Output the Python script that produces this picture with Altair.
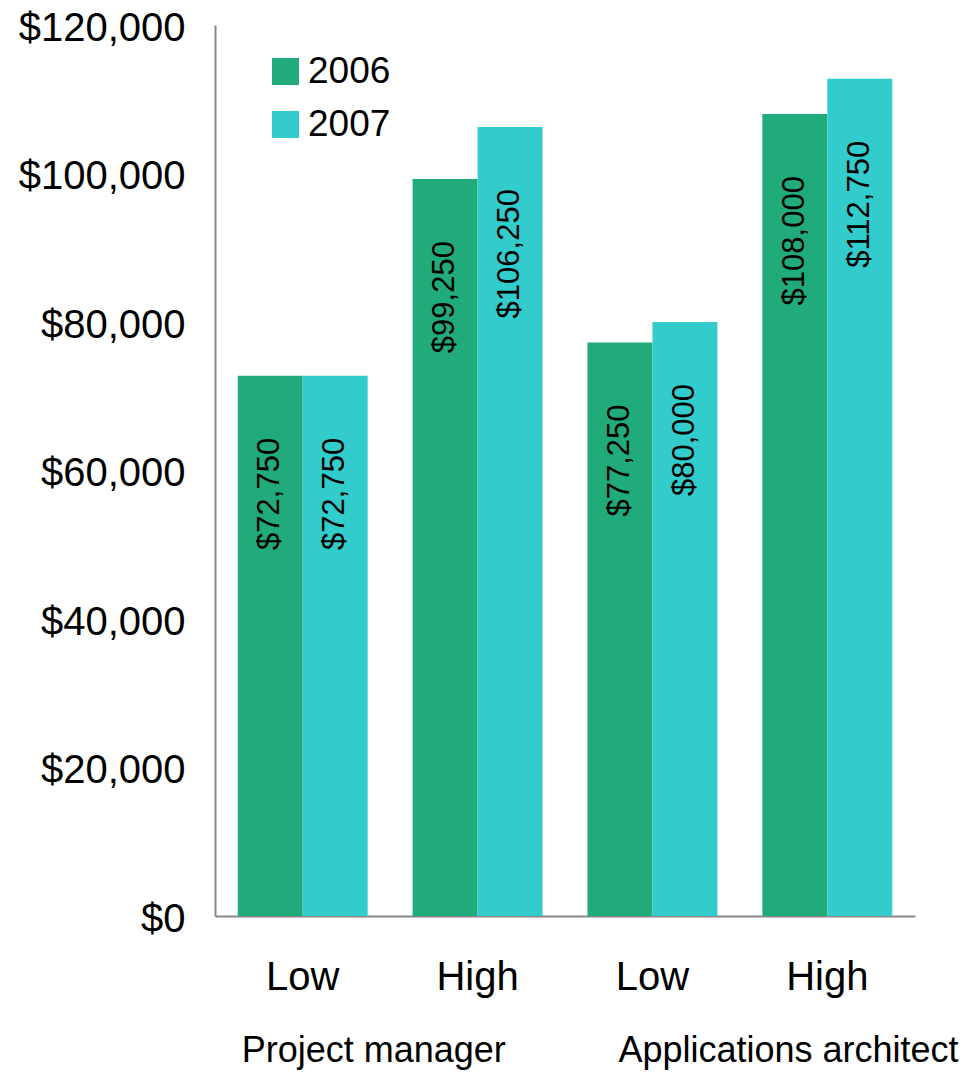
import altair as alt
import pandas as pd

roles = ["Project manager", "Project manager", "Applications architect", "Applications architect"]
levels = ["Low", "High", "Low", "High"]
years = ["2006", "2007"]
salary_2006 = [72750, 99250, 77250, 108000]
salary_2007 = [72750, 106250, 80000, 112750]
group_names = ["Project manager", "Applications architect"]
colors = ["#21AA7A", "#33CCCC"]

rows = []
for r, l, a, b in zip(roles, levels, salary_2006, salary_2007):
    key = f"{r}|{l}"
    rows.append({"key": key, "year": "2006", "salary": a})
    rows.append({"key": key, "year": "2007", "salary": b})
df = pd.DataFrame(rows)
keys = [f"{r}|{l}" for r, l in zip(roles, levels)]

FONT = "Liberation Sans"
W, H = 700, 891

x_enc = alt.X(
    "key:N",
    sort=keys,
    scale=alt.Scale(domain=keys, paddingInner=0.257, paddingOuter=0.13),
    axis=alt.Axis(
        title=None,
        labelExpr="split(datum.label, '|')[1]",
        labelAngle=0,
        labelFontSize=40,
        labelFont=FONT,
        labelColor="#000000",
        labelPadding=41,
        ticks=False,
        domainColor="#888888",
        domainWidth=2,
        grid=False,
    ),
)
xoff = alt.XOffset("year:N", sort=years, scale=alt.Scale(paddingInner=0, paddingOuter=0))
y_enc = alt.Y(
    "salary:Q",
    scale=alt.Scale(domain=[0, 120000], nice=False),
    axis=alt.Axis(
        title=None,
        values=[0, 20000, 40000, 60000, 80000, 100000, 120000],
        format="$,.0f",
        labelFontSize=40,
        labelFont=FONT,
        labelColor="#000000",
        labelPadding=30,
        labelOffset=3,
        ticks=False,
        grid=False,
        domainColor="#888888",
        domainWidth=2,
    ),
)

bars = alt.Chart(df).mark_bar().encode(
    x=x_enc,
    xOffset=xoff,
    y=y_enc,
    color=alt.Color(
        "year:N",
        sort=years,
        scale=alt.Scale(domain=years, range=colors),
        legend=alt.Legend(
            title=None,
            orient="none",
            legendX=52,
            legendY=28,
            symbolType="square",
            symbolSize=729,
            symbolStrokeWidth=0,
            labelFontSize=37,
            labelFont=FONT,
            labelColor="#000000",
            labelOffset=4,
            rowPadding=15,
            padding=0,
        ),
    ),
)

labels = alt.Chart(df).mark_text(
    angle=270, align="right", baseline="middle", dx=-62, fontSize=31, font=FONT, color="#000000"
).encode(
    x=alt.X("key:N", sort=keys),
    xOffset=alt.XOffset("year:N", sort=years),
    y="salary:Q",
    text=alt.Text("salary:Q", format="$,.0f"),
)

group_df = pd.DataFrame({"name": group_names, "key": [keys[0], keys[2]]})
g_dx = [-61, -34]
group_layers = []
for name, dx in zip(group_names, g_dx):
    group_layers.append(
        alt.Chart(group_df).transform_filter(alt.datum.name == name).mark_text(
            align="left", baseline="alphabetic", dx=dx, fontSize=36, font=FONT, color="#000000"
        ).encode(
            x=alt.X("key:N", sort=keys),
            y=alt.value(H + 146),
            text="name:N",
        )
    )

chart = alt.layer(bars, labels, *group_layers).properties(
    width=W,
    height=H,
    autosize=alt.AutoSizeParams(type="none"),
    padding={"left": 207, "top": 17, "right": 47, "bottom": 154},
).configure_view(stroke=None, strokeWidth=0)

chart.save("out.html", embed_options={"renderer": "svg", "actions": False})
